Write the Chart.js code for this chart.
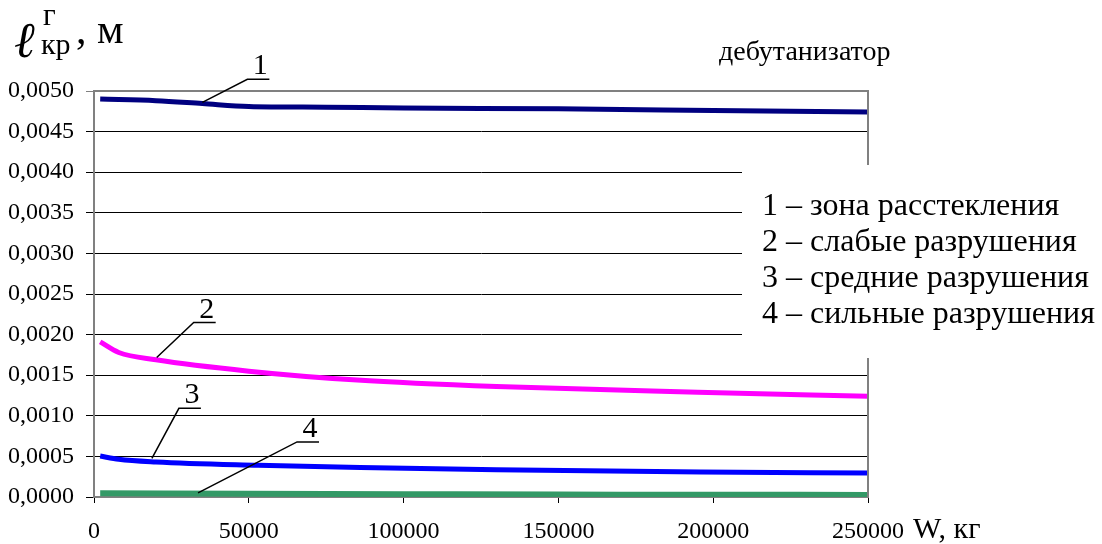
<!DOCTYPE html>
<html>
<head>
<meta charset="utf-8">
<script src="https://cdn.jsdelivr.net/npm/chart.js@4.4.1/dist/chart.umd.min.js"></script>
<style>
  body { margin: 0; background: #fff; }
  #wrap { width: 1102px; height: 544px; }
</style>
</head>
<body>
<div id="wrap"><canvas id="chart"></canvas></div>
<script>
// chart data
const xTicks = [0, 50000, 100000, 150000, 200000, 250000];
const yTicks = [0, 0.0005, 0.001, 0.0015, 0.002, 0.0025, 0.003, 0.0035, 0.004, 0.0045, 0.005];

const w1 = [2000, 20000, 35000, 50000, 75000, 100000, 150000, 200000, 250000];
const zone1 = [0.00490, 0.00488, 0.004845, 0.00481, 0.00480, 0.00479, 0.00478, 0.00476, 0.00474];

const w2 = [2000, 8000, 20000, 50000, 85000, 130000, 195000, 250000];
const zone2 = [0.00191, 0.00178, 0.00169, 0.00155, 0.00144, 0.00136, 0.00129, 0.00124];

const w3 = [2000, 8000, 20000, 53000, 86000, 130000, 196000, 250000];
const zone3 = [0.000505, 0.000464, 0.000431, 0.00039, 0.000362, 0.000335, 0.000308, 0.000296];

const w4 = [2000, 50000, 100000, 150000, 200000, 250000];
const zone4 = [0.000045, 0.00004, 0.000035, 0.00003, 0.000028, 0.000025];

const legendLines = [
  '1 – зона расстекления',
  '2 – слабые разрушения',
  '3 – средние разрушения',
  '4 – сильные разрушения'
];

// leader lines with numbers, anchored on the curves
const callouts = [
  { text: '1', w: 35000, v: 0.00486, dx: 45, dy: -23 },
  { text: '2', w: 20250, v: 0.001717, dx: 37, dy: -35 },
  { text: '3', w: 18700, v: 0.000476, dx: 27, dy: -50 },
  { text: '4', w: 33600, v: 0.00005, dx: 99, dy: -51 }
];

const serif = '"Liberation Serif", "DejaVu Serif", serif';

function toPoints(xs, ys) {
  return xs.map((x, i) => ({ x: x, y: ys[i] }));
}

function lineSet(xs, ys, color, width) {
  return {
    data: toPoints(xs, ys),
    borderColor: color,
    borderWidth: width,
    pointRadius: 0,
    tension: 0.4,
    cubicInterpolationMode: 'monotone',
    fill: false
  };
}

const overlay = {
  id: 'overlay',
  afterDatasetsDraw(chart) {
    const { ctx, chartArea: a, scales } = chart;
    ctx.save();

    // top and right frame
    ctx.strokeStyle = '#808080';
    ctx.lineWidth = 2;
    ctx.beginPath();
    ctx.moveTo(a.left, a.top);
    ctx.lineTo(a.right, a.top);
    ctx.lineTo(a.right, a.bottom);
    ctx.stroke();

    // legend box
    ctx.fillStyle = '#fff';
    ctx.fillRect(742, 165, 360, 193);
    ctx.fillStyle = '#000';
    ctx.font = '32px ' + serif;
    ctx.textBaseline = 'middle';
    ctx.textAlign = 'left';
    legendLines.forEach((t, i) => ctx.fillText(t, 762, 207 + i * 36));

    // callouts
    ctx.strokeStyle = '#000';
    ctx.lineWidth = 1.5;
    ctx.font = '30px ' + serif;
    ctx.textAlign = 'center';
    ctx.textBaseline = 'alphabetic';
    callouts.forEach(c => {
      const px = scales.x.getPixelForValue(c.w);
      const py = scales.y.getPixelForValue(c.v);
      const cx = px + c.dx, cy = py + c.dy;
      ctx.beginPath();
      ctx.moveTo(px, py);
      ctx.lineTo(cx, cy);
      ctx.lineTo(cx + 22, cy);
      ctx.stroke();
      ctx.fillText(c.text, cx + 13, cy - 5);
    });

    // top-right caption
    ctx.textAlign = 'left';
    ctx.textBaseline = 'middle';
    ctx.font = '28px ' + serif;
    ctx.fillText('дебутанизатор', 719, 53);

    // axis titles
    ctx.textBaseline = 'alphabetic';
    ctx.font = 'italic 50px "DejaVu Serif", serif';
    ctx.fillText('ℓ', 14, 57);
    ctx.font = '31px ' + serif;
    ctx.fillText('г', 43, 25);
    ctx.font = '30px ' + serif;
    ctx.fillText('кр', 41, 54);
    ctx.font = '42px ' + serif;
    ctx.fillText(', м', 76, 43);

    ctx.font = '30px ' + serif;
    ctx.textBaseline = 'middle';
    ctx.fillText('W, кг', 913, 530);

    ctx.restore();
  }
};

new Chart(document.getElementById('chart'), {
  type: 'line',
  data: {
    datasets: [
      lineSet(w1, zone1, '#000080', 5),
      lineSet(w2, zone2, '#ff00ff', 5),
      lineSet(w3, zone3, '#0000ff', 5),
      lineSet(w4, zone4, '#339966', 6)
    ]
  },
  options: {
    responsive: true,
    maintainAspectRatio: false,
    animation: false,
    layout: { padding: { top: 91, right: 234, left: 0, bottom: 0 } },
    plugins: {
      legend: { display: false },
      tooltip: { enabled: false }
    },
    scales: {
      x: {
        type: 'linear',
        min: 0,
        max: 250000,
        afterFit: s => { s.height = 47; },
        afterBuildTicks: s => { s.ticks = xTicks.map(v => ({ value: v })); },
        grid: { drawOnChartArea: false, drawTicks: true, tickLength: 6, color: '#000' },
        border: { color: '#808080', width: 2 },
        ticks: {
          color: '#000',
          padding: 14,
          maxRotation: 0,
          font: { family: serif, size: 24 },
          callback: v => String(v)
        }
      },
      y: {
        min: 0,
        max: 0.005,
        afterFit: s => { s.width = 94; },
        afterBuildTicks: s => { s.ticks = yTicks.map(v => ({ value: v })); },
        grid: {
          color: c => (c.tick && c.tick.value === 0.005 ? '#808080' : '#000'),
          lineWidth: 1,
          tickLength: 8
        },
        border: { color: '#808080', width: 2 },
        ticks: {
          color: '#000',
          padding: 12,
          font: { family: serif, size: 24 },
          callback: v => v.toFixed(4).replace('.', ',')
        }
      }
    }
  },
  plugins: [overlay]
});
</script>
</body>
</html>
